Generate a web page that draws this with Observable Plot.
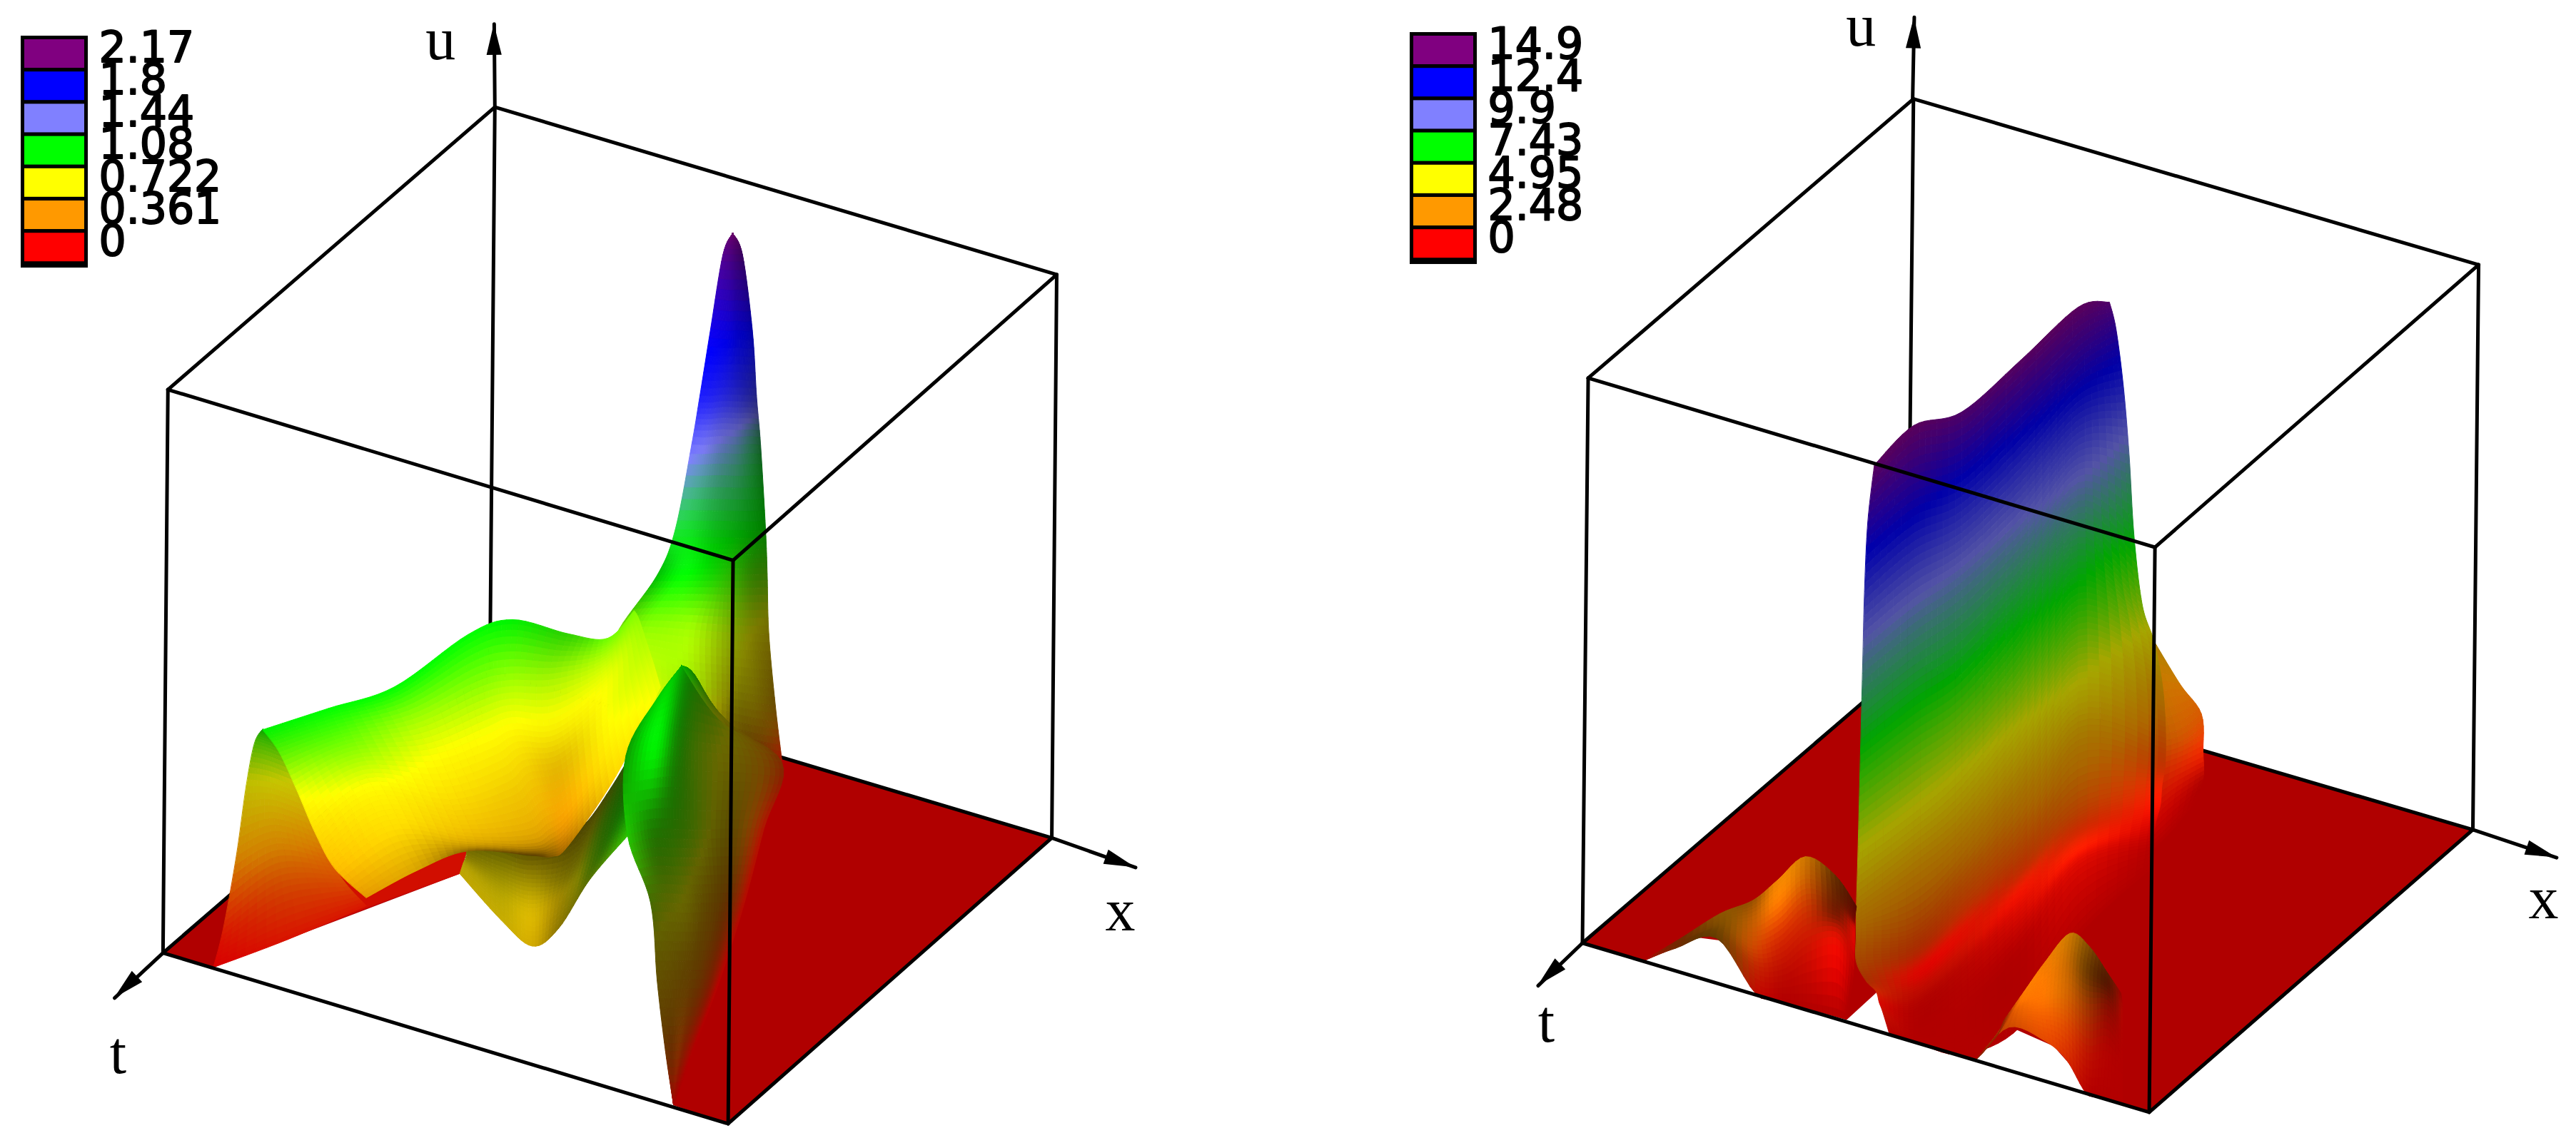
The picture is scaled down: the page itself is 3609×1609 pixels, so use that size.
<!DOCTYPE html>
<html><head><meta charset="utf-8">
<style>html,body{margin:0;padding:0;background:#fff;overflow:hidden}</style>
<script src="https://cdn.jsdelivr.net/npm/d3@7"></script>
<script src="https://cdn.jsdelivr.net/npm/@observablehq/plot@0.6"></script>
</head><body><div id="chart"></div>
<script>
// ---- legend values ----
const leftLevels  = [0, 0.361, 0.722, 1.08, 1.44, 1.8, 2.17];
const rightLevels = [0, 2.48, 4.95, 7.43, 9.9, 12.4, 14.9];
const levelColors = ["#ff0000", "#ff9900", "#ffff00", "#00ff00", "#8080ff", "#0000ff", "#800080"];

// ---- box floor corners [across, depth]: back, right, front, left ----
const leftFloor  = [[298, 408], [640, 510], [443, 684], [99, 580]];
const rightFloor = [[1161, 404], [1505, 505], [1308, 677], [963, 574]];
// ---- axis tips [across, depth, u] ----
const leftTips  = { u: [300.6, 408, 2.49], x: [691, 528, 0], t: [69.5, 607.5, 0] };
const rightTips = { u: [1165, 404, 17.05], x: [1556, 522, 0], t: [936, 600, 0] };

// ---- surface samples, each vertex [across, depth, u, light] ----
const leftStrip = [
 [[175,578,.04,.82],[223,559,.04,.82],[280,538,.04,.82]],
 [[175,506,.04,.82],[225,506,.04,.82],[290,506,.04,.82]]];
const leftSpike = [
 [[446,485,2.17,.85],[446,485,2.17,.85],[446,485,2.17,.85],[446,485,2.17,.85],[446,485,2.17,.85],[446,485,2.17,.85]],
 [[440,484,2.08,.9],[442.5,484,2.08,.85],[445,484,2.08,.8],[447.5,484,2.08,.72],[450,484,2.08,.65],[452,484,2.08,.6]],
 [[432.5,493,1.85,1],[438,492,1.84,.95],[444,491,1.83,.88],[449,489,1.82,.78],[454,488,1.81,.72],[458,486,1.8,.65]],
 [[426,513,1.72,1],[433,510,1.7,.95],[441,506,1.68,.85],[449,503,1.66,.72],[456,500,1.64,.6],[460.5,494,1.6,.52]],
 [[421,508,1.5,1],[429,502,1.46,.95],[439,495,1.42,.8],[449,486,1.36,.7],[457,473,1.28,.58],[463,464,1.22,.45]],
 [[411,506,1.16,1],[421,503,1.14,.95],[435,500,1.12,.78],[449,497,1.1,.65],[459,494,1.08,.55],[466,490,1.06,.48]],
 [[400,521,1.08,.75],[415,521,1.08,1],[432,516,1.05,.85],[445,508,1,.7],[458,500,.95,.5],[467,495,.92,.45]],
 [[377,522,.88,.85],[395,521,.88,1],[420,518,.85,1],[445,512,.8,.65],[458,500,.72,.5],[468,489,.65,.45]],
 [[370,531,.8,1],[393,536,.8,1],[420,550,.82,.9],[445,536,.7,.5],[460,523,.6,.45],[472,501,.45,.42]],
 [[372,554,.72,1],[395,554,.72,1],[420,554,.72,.8],[445,534,.5,.42],[462,500,.25,.42],[476,473,.06,.65]]];
const leftUnderfold = [
 [[280,627,.6,.75],[282,624,.62,.7],[284,623,.65,.5],[285,616,.7,.3]],
 [[305,655,.6,.78],[305,645,.63,.72],[305,634,.66,.55],[305,621,.7,.3]],
 [[324,663,.55,.82],[324,647,.58,.85],[324,633,.62,.6],[324,610,.6,.3]],
 [[340,657,.58,.55],[343,640,.6,.6],[347,633,.65,.45],[352,600,.6,.3]],
 [[359,662,.8,.45],[364,662,.9,.42],[368,642,.9,.38],[372,606,.8,.3]],
 [[382,667,1,.78],[384,656,1.05,.55],[388,636,1.05,.4],[392,611,1.05,.4]]];
const leftWave = [
 [[130,589,0,.85],[136,578,.08,.85],[144,581,.38,.82],[150,589,.7,.75],[155,598,.92,.7],[160,610,1.05,.65]],
 [[175,580,.05,.85],[172,572,.2,.82],[168,576,.42,.82],[165,587,.68,.78],[162,600,.92,.72],[160,610,1.05,.65]],
 [[223,561,.06,.85],[210,569,.2,.85],[197,568,.32,.85],[183,584,.62,.8],[170,600,.9,.72],[160,610,1.05,.65]]];
const leftSheet = [
 [[223,613,.42,.9],[204,608,.5,1],[192,602,.6,1],[181,600,.75,1],[170,608,.95,.95],[160,615,1.08,.95]],
 [[254,609,.5,.85],[240,600,.6,1],[228,592,.7,1],[216,596,.85,1],[207,598,.97,1],[200,602,1.08,1]],
 [[285,594,.48,.55],[284,593,.52,.9],[275,585,.6,.98],[262,575,.73,1],[250,574,.88,1],[240,589,1.08,1]],
 [[324,592,.45,.35],[322,587,.48,.85],[310,572,.58,.95],[296,561,.72,1],[290,557,.9,1],[285,557,1.08,1]],
 [[336,591,.44,.5],[334,576,.45,.9],[322,562,.58,.95],[312,554,.72,1],[310,549,.88,1],[312,548,1.08,.95]],
 [[346,578,.4,.7],[346,561,.42,.98],[342,552,.55,.9],[338,551,.7,.98],[338,544,.85,.95],[346,544,1,.82]],
 [[375,564,.58,1],[372,559,.66,1],[370,549,.72,1],[370,532,.74,1],[369,530,.82,1],[370,534,.92,1]],
 [[402,537,.75,1],[398,528,.78,1],[394,522,.82,1],[390,516,.86,1],[388,514,.88,1],[386,514,.9,1]]];
const leftCrest = [
 [[415,576,1.08,.7],[415,576,1.08,.7],[415,576,1.08,.7],[415,576,1.08,.7],[415,576,1.08,.7],[415,576,1.08,.7]],
 [[400,596,1.08,.8],[407,591,1.08,.85],[417,579,1.05,.55],[424,573,1,.45],[431,567,.9,.42],[438,552,.72,.42]],
 [[381,626,1.05,.6],[398,628,1.08,.95],[412,616,1.02,.5],[425,592,.85,.42],[450,555,.6,.42],[476,496,.2,.5]],
 [[382,670,1.02,.78],[396,663,1,.5],[410,655,.95,.42],[425,635,.82,.4],[447,584,.5,.38],[465,514,.06,.7]],
 [[396,684,.85,.42],[405,673,.78,.4],[417,661,.7,.4],[430,629,.5,.37],[443,594,.28,.4],[453,555,.03,.72]],
 [[400,684,.55,.38],[408,676,.5,.38],[417,663,.42,.38],[426,644,.3,.4],[433,619,.14,.5],[438,599,.01,.72]],
 [[405,687,.3,.42],[409,680,.25,.42],[413,675,.22,.5],[416,662,.14,.52],[419,651,.07,.6],[422,640,0,.7]],
 [[410,676,.02,.65],[410,676,.02,.65],[410,676,.02,.65],[410,676,.02,.65],[410,676,.02,.65],[410,676,.02,.65]]];

const rightRidge = [
 [[1300,471,3.5,.6],[1306,466,3.5,.65],[1311,471,3.5,.65]],
 [[1300,494,3.2,.62],[1315,473,2.5,.78],[1327,472,2.4,.8]],
 [[1300,501,2.2,.65],[1325,489,1.9,.8],[1340,474,1.7,.85]],
 [[1300,498,1,.7],[1325,486,.9,.85],[1341,474,.7,.95]],
 [[1300,512,.1,.8],[1320,493,.15,.8],[1341,477,.1,.7]],
 [[1295,530,0,.7],[1318,510,0,.7],[1335,490,0,.7]]];
const rightPlate = [
 [[1141,627,14.9,.7],[1137,625,13.3,.7],[1135,620,11.25,.65],[1134,618,9.45,.65],[1133,625,8,.65],[1132,629,6.45,.65],[1131,631,4.8,.65],[1130,625,3.05,.65],[1130,625,2.4,.65],[1130,627,1.8,.65],[1136,625,1.2,.66],[1142,622,.8,.8],[1144,615,.2,.85],[1146,624,.35,.78],[1150,630,.05,.72]],
 [[1165,603,14.9,.7],[1165,604,13.4,.68],[1165,598,11.4,.65],[1165,594,9.5,.65],[1165,600,8,.65],[1165,603,6.4,.65],[1165,605,4.75,.65],[1165,599,3,.65],[1165,602,1.6,.65],[1165,603,1,.68],[1165,597,.2,.85],[1165,610,.25,.75],[1165,616,.05,.7],[1165,630,0,.7],[1165,634,0,.7]],
 [[1194,588,14.6,.7],[1194,579,12.75,.67],[1194,574,11,.65],[1194,573,9.45,.65],[1194,580,8,.65],[1194,580,6.3,.65],[1194,583,4.9,.65],[1194,579,3.2,.65],[1194,579,1.9,.66],[1194,580,1.15,.72],[1194,574,.3,.88],[1194,587,.3,.8],[1194,594,.1,.72],[1194,615,0,.7],[1194,642,0,.7]],
 [[1230,561,14.8,.7],[1230,555,13.2,.67],[1230,547,11.35,.65],[1230,545,9.75,.65],[1230,549,8.4,.65],[1230,554,7.1,.65],[1230,555,5.65,.65],[1230,554,4.3,.65],[1230,551,2.85,.65],[1230,553,1.65,.68],[1230,553,1,.75],[1230,551,.4,.95],[1230,560,.2,.85],[1230,580,0,.7],[1230,625,0,.7]],
 [[1265,531,14.9,.7],[1265,530,13.65,.67],[1265,524,12.1,.65],[1265,521,10.65,.65],[1265,520,9.3,.65],[1265,524,8.2,.65],[1265,529,7.1,.65],[1265,530,5.85,.65],[1265,529,4.5,.65],[1265,524,3,.65],[1265,528,1.65,.7],[1265,526,.9,.8],[1265,529,.5,1],[1265,533,.15,.85],[1265,570,0,.7]],
 [[1284,521,14.6,.72],[1288,513,13.55,.68],[1292.5,503,11.6,.65],[1296,494,9.4,.65],[1299,502,7.6,.65],[1304,500,5.7,.65],[1311,494,4.5,.65],[1316,487,3.1,.65],[1318,486,2,.68],[1318,489,1.05,.75],[1316,492,.6,.95],[1315,497,.3,1],[1312,504,.1,.85],[1310,516,.02,.72],[1308,530,0,.7]]];
const rightBumpA = [
 [[1001,587,.1,.7],[1001,587,.1,.7],[1001,587,.1,.7],[1001,587,.1,.7],[1001,587,.1,.7]],
 [[1020,612,1.5,.45],[1020,610,1.5,.45],[1021,609,1.5,.45],[1022,608,1.5,.45],[1023,606,1.5,.45]],
 [[1045,629,2.5,.4],[1045,626,2.5,.42],[1046,623,2.5,.45],[1047,620,2.5,.5],[1047,614,2.5,.55]],
 [[1069,610,.2,.75],[1068,608,.8,.75],[1067,610,1.5,.8],[1067,606,2,.75],[1067,599,2.2,.6]],
 [[1085,610,0,.7],[1085,597,.3,.75],[1083,591,.9,.85],[1082,596,2,1],[1082,589,2.3,.95]],
 [[1100,614,0,.7],[1100,587,.3,.8],[1100,578,1,.8],[1099,581,2,.8],[1099,577,2.4,.8]],
 [[1118,619,0,.7],[1118,580,.2,.95],[1118,576,.8,.5],[1118,577,1.4,.4],[1117,579,2,.4]],
 [[1124,620.5,0,.7],[1128,595,0,.7],[1129,570,.1,.9],[1129,565,.2,.5],[1130,561,.4,.35]]];
const rightBumpB = [
 [[1203,668,1,.55],[1207,664,1,.55],[1212,658,1,.55],[1216,653,1,.55],[1220,644,1,.55]],
 [[1223,660,1.5,.8],[1225,657,1.6,.85],[1227,654,1.7,.9],[1230,653,1.9,1],[1232,650,2,1]],
 [[1245,664,1.3,.9],[1243,657,1.6,.95],[1243,652,1.9,1],[1244,644,2,1],[1245,634,2.1,.95]],
 [[1258,664,.8,.85],[1257,657,1.4,.88],[1257,651,2,.85],[1258,636,2.2,.8],[1260,626,2.5,.8]],
 [[1270,667,.05,.72],[1270,652,.5,.75],[1270,647,1.4,.65],[1270,643,2.2,.45],[1272,632,2.4,.5]],
 [[1280,669,0,.7],[1282,642,.1,.7],[1283,624,.4,.55],[1283,623,1,.35],[1283,625,1.4,.35]],
 [[1292,672,0,.7],[1292,650,0,.7],[1292,631,.05,.7],[1292,617,.1,.7],[1291,607,.1,.6]]];

// ---- floor outlines that exclude the raised / empty parts: [across, depth] lower and upper paths ----
const leftFloorParts = [
 { lower: [[99,580],[130,589],[280,532]], upper: [[99,580],[298,408],[298,408]] },
 { lower: [[410,673],[443,684],[640,510]], upper: [[440,450],[440,450],[640,510]] }];
const rightFloorLower = [[963,574],[1001,585],[1034,571],[1050,573],[1060.5,588],[1069,605],[1124,621],[1142.6,604],[1150,629],[1203,645],[1223,625],[1250,637],[1261.6,650],[1270,666],[1308,677],[1505,505]];
const rightFloorUpper = rightFloorLower.map((_, i, a) => i === 0 ? [963,574] : i === a.length - 1 ? [1505,505] : [1161,404]);

// ---- projection: floor plan + height, then Plot's own x / y scales ----
const W = 3609, H = 1609, pxPerUnit = W / 1568;
const floorShade = "#b00000";
const panels = {
  left:  { boxHeight: 343, uMax: 2.17, levels: leftLevels },
  right: { boxHeight: 344, uMax: 14.9, levels: rightLevels }
};
const project = (p, a, d, u) => [a, d - (u / p.uMax) * p.boxHeight];

function colorOf(p, u, light) {
  const c = d3.rgb(d3.scaleLinear().domain(p.levels).range(levelColors).clamp(true)(u));
  const l = Math.max(0, Math.min(1, light));
  return `rgb(${Math.round(c.r * l)},${Math.round(c.g * l)},${Math.round(c.b * l)})`;
}
const cr = (a, b, c, d, t) => 0.5 * (2 * b + (c - a) * t + (2 * a - 5 * b + 4 * c - d) * t * t + (3 * b - a - 3 * c + d) * t * t * t);
function refineLine(pts, n) {
  const out = [];
  for (let i = 0; i < pts.length - 1; i++) {
    const p0 = pts[Math.max(0, i - 1)], p1 = pts[i], p2 = pts[i + 1], p3 = pts[Math.min(pts.length - 1, i + 2)];
    for (let k = 0; k < n; k++) out.push(p1.map((_, j) => cr(p0[j], p1[j], p2[j], p3[j], k / n)));
  }
  out.push(pts[pts.length - 1]);
  return out;
}
let quadId = 0;
function meshQuads(p, mesh, n = 5) {
  const rows = mesh.map(r => refineLine(r, n));
  const cols = rows[0].map((_, j) => refineLine(rows.map(r => r[j]), n));
  const out = [];
  for (let j = 0; j < cols.length - 1; j++) for (let i = 0; i < cols[j].length - 1; i++) {
    const a = cols[j][i], b = cols[j + 1][i], c = cols[j][i + 1], e = cols[j + 1][i + 1];
    const u = Math.max(0, (a[2] + b[2] + c[2] + e[2]) / 4), l = (a[3] + b[3] + c[3] + e[3]) / 4;
    const col = colorOf(p, u, l), id = quadId++;
    const P = v => project(p, v[0], v[1], Math.max(0, v[2]));
    const [ax, ay] = P(a), [bx, by] = P(b), [cx, cy] = P(c), [ex, ey] = P(e);
    out.push({ id, c: col, x1: ax, y1: ay, x2: bx, y2: by }, { id, c: col, x1: cx, y1: cy, x2: ex, y2: ey });
  }
  return out;
}
const polyRows = (lower, upper) => lower.map((v, i) => ({ x1: v[0], y1: v[1], x2: upper[i][0], y2: upper[i][1], z: 0 }));
const areaMark = q => Plot.area(q, { x1: "x1", y1: "y1", x2: "x2", y2: "y2", z: "id", fill: "c", stroke: "c", strokeWidth: 1 });
const floorMark = rows => Plot.area(rows, { x1: "x1", y1: "y1", x2: "x2", y2: "y2", fill: floorShade });

function boxLines(p, floor, lean) {
  const [B, R, F, L] = floor;
  const top = c => [c[0] + lean, c[1] - p.boxHeight];
  const seg = (a, b) => ({ x1: a[0], y1: a[1], x2: b[0], y2: b[1] });
  return {
    back: [seg(B, top(B)), seg(L, top(L)), seg(R, top(R)), seg(top(B), top(L)), seg(top(B), top(R)), seg(B, L), seg(B, R)],
    front: [seg(F, top(F)), seg(top(F), top(L)), seg(top(F), top(R)), seg(L, F), seg(F, R)]
  };
}
const lineMark = rows => Plot.link(rows, { x1: "x1", y1: "y1", x2: "x2", y2: "y2", stroke: "black", strokeWidth: 5, strokeLinecap: "round" });

function axisParts(p, floor, tips) {
  const [B, R, , L] = floor;
  const from = { u: [B[0] + 2, B[1]], x: R, t: L }, rows = [], heads = [];
  for (const k of ["u", "x", "t"]) {
    const tip = project(p, tips[k][0], tips[k][1], tips[k][2]);
    const start = k === "u" ? [B[0] + 3, B[1] - p.boxHeight] : from[k];
    rows.push({ x1: start[0], y1: start[1], x2: tip[0], y2: tip[1] });
    const dx = tip[0] - start[0], dy = tip[1] - start[1], len = Math.hypot(dx, dy);
    const ux = dx / len, uy = dy / len, hl = 19, hw = 4.6;
    const bx = tip[0] - ux * hl, by = tip[1] - uy * hl;
    heads.push({ id: "h" + k + tip[0], x1: bx - uy * hw, y1: by + ux * hw, x2: bx + uy * hw, y2: by - ux * hw },
               { id: "h" + k + tip[0], x1: tip[0], y1: tip[1], x2: tip[0], y2: tip[1] });
  }
  return { rows, heads };
}

// ---- legend ----
function legendMarks(levels, boxLeftPx, boxTopPx, labelLeftPx, labelTopPx) {
  const order = d3.range(levels.length).reverse();
  const pitch = 45.2, u = pxPerUnit;
  const cells = order.map((lv, i) => ({
    x1: (boxLeftPx + 5) / u, x2: (boxLeftPx + 89) / u,
    y1: (boxTopPx + 5 + i * pitch) / u, y2: (boxTopPx + 5 + i * pitch + 40) / u, c: levelColors[lv]
  }));
  const texts = order.map((lv, i) => ({ x: labelLeftPx / u, y: (labelTopPx + i * pitch) / u, s: String(levels[lv]) }));
  return [
    Plot.rect([{ x1: boxLeftPx / u, x2: (boxLeftPx + 94) / u, y1: boxTopPx / u, y2: (boxTopPx + 325) / u }],
      { x1: "x1", x2: "x2", y1: "y1", y2: "y2", fill: "black", inset: 0 }),
    Plot.rect(cells, { x1: "x1", x2: "x2", y1: "y1", y2: "y2", fill: "c", inset: 0 }),
    Plot.text(texts, { x: "x", y: "y", text: "s", textAnchor: "start", fontFamily: "DejaVu Sans", fontSize: 60, fill: "black", stroke: "black", strokeWidth: 2 })
  ];
}

const L = panels.left, Rp = panels.right;
const leftAxes = axisParts(L, leftFloor, leftTips), rightAxes = axisParts(Rp, rightFloor, rightTips);
const leftBox = boxLines(L, leftFloor, 3), rightBox = boxLines(Rp, rightFloor, 3.5);
const axisLabels = [
  { s: "u", x: 268, y: 24.3 }, { s: "x", x: 681.7, y: 554.8 }, { s: "t", x: 71.7, y: 641.7 },
  { s: "u", x: 1132.6, y: 16 }, { s: "x", x: 1548, y: 547 }, { s: "t", x: 941, y: 622.5 }
];

const plot = Plot.plot({
  width: W, height: H, marginTop: 0, marginRight: 0, marginBottom: 0, marginLeft: 0,
  x: { domain: [0, 1568], range: [0, W], axis: null },
  y: { domain: [0, 699], range: [0, H], axis: null },
  color: { type: "identity" },
  style: { background: "white" },
  marks: [
    ...leftFloorParts.map(f => floorMark(polyRows(f.lower, f.upper))),
    floorMark(polyRows(rightFloorLower, rightFloorUpper)),
    lineMark(leftBox.back), lineMark(rightBox.back),
    lineMark(leftAxes.rows), lineMark(rightAxes.rows),
    Plot.area([...leftAxes.heads, ...rightAxes.heads], { x1: "x1", y1: "y1", x2: "x2", y2: "y2", z: "id", fill: "black" }),
    areaMark(meshQuads(L, leftStrip, 2)),
    areaMark(meshQuads(L, leftSpike, 8)),
    areaMark(meshQuads(L, leftUnderfold, 8)),
    areaMark(meshQuads(L, leftWave, 8)),
    areaMark(meshQuads(L, leftSheet, 8)),
    areaMark(meshQuads(L, leftCrest, 8)),
    areaMark(meshQuads(Rp, rightRidge, 6)),
    areaMark(meshQuads(Rp, rightPlate, 8)),
    areaMark(meshQuads(Rp, rightBumpA, 6)),
    areaMark(meshQuads(Rp, rightBumpB, 6)),
    lineMark(leftBox.front), lineMark(rightBox.front),
    ...legendMarks(leftLevels, 29, 50, 138, 67),
    ...legendMarks(rightLevels, 1975, 45, 2084, 62),
    Plot.text(axisLabels, { x: "x", y: "y", text: "s", fontFamily: "Liberation Serif", fontSize: 84, fill: "black" })
  ]
});
document.getElementById("chart").appendChild(plot);
</script></body></html>
